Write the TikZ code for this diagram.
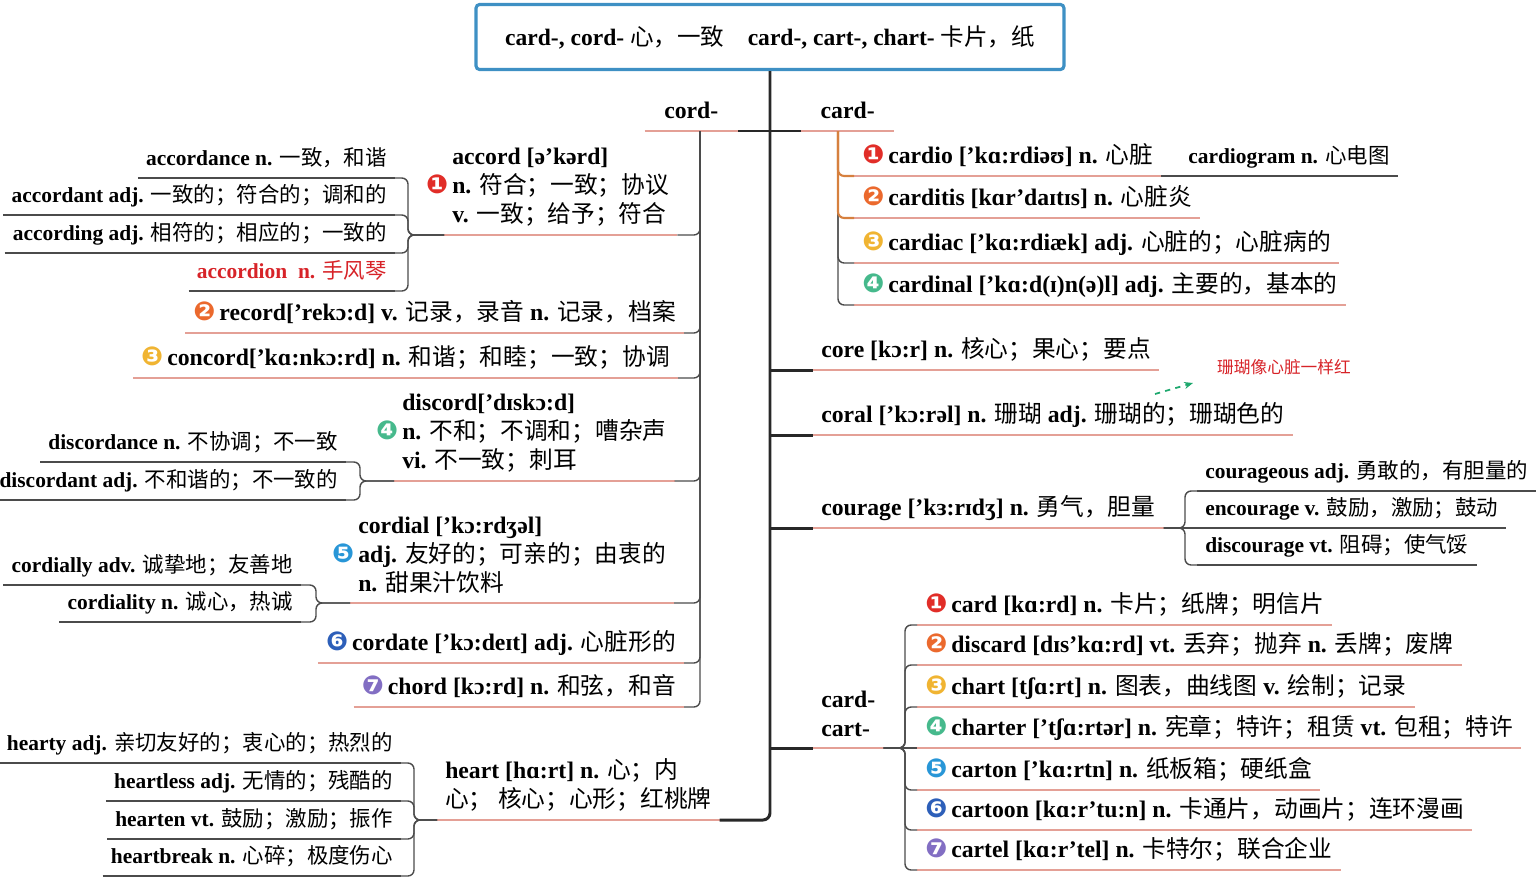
\documentclass[tikz,border=0pt]{standalone}
\usepackage{fontspec}
\setmainfont{Liberation Serif}
\newfontfamily\cjk{Noto Sans CJK SC}
\newfontfamily\dingfont{DejaVu Sans}[Scale=1.1]
\usetikzlibrary{arrows.meta}
\definecolor{CmBlue}{RGB}{62,144,196}
\definecolor{CmTrunk}{RGB}{40,40,40}
\definecolor{CmLink}{RGB}{75,75,75}
\definecolor{CmPink}{RGB}{228,160,150}
\definecolor{CmOrange}{RGB}{214,128,62}
\definecolor{CmRed}{RGB}{215,35,40}
\definecolor{CmGreen}{RGB}{30,168,110}
\definecolor{Nb1}{RGB}{225,45,40}
\definecolor{Nb2}{RGB}{235,105,45}
\definecolor{Nb3}{RGB}{240,180,50}
\definecolor{Nb4}{RGB}{70,185,140}
\definecolor{Nb5}{RGB}{40,150,215}
\definecolor{Nb6}{RGB}{45,95,185}
\definecolor{Nb7}{RGB}{130,110,195}
\newcommand\cmfont{\fontsize{13.5}{16.5}\selectfont\bfseries}
\newcommand\subfont{\fontsize{12.2}{15}\selectfont\bfseries}
\newcommand\zh[1]{{\cjk\mdseries #1}}
\newcommand\nb[2]{{\dingfont\color{#1}#2}}
\tikzset{
  cm/title/.style={
    draw=CmBlue,
    line width=1.8pt,
    rounded corners=2pt,
    fill=white,
    minimum width=11.76cm,
    minimum height=1.3cm,
    font=\fontsize{13.4}{16}\selectfont\bfseries
  },
  cm/text/.style={font=\cmfont, inner xsep=4.5pt, inner ysep=2.8pt},
  cm/word/.style={cm/text, text depth=4pt},
  cm/sub/.style={cm/word, font=\subfont},
  cm/multi/.style={cm/text, align=left, inner ysep=5pt},
  cm/root/.style={cm/word, inner xsep=11pt},
  cm/note/.style={font=\fontsize{9.5}{11}\selectfont\cjk, text=CmRed, inner sep=1pt},
  cm/trunk/.style={draw=CmTrunk, line width=1.7pt, rounded corners=4pt},
  cm/link/.style={draw=CmLink, line width=0.8pt, rounded corners=3.5pt},
  cm/hot/.style={draw=CmOrange, line width=1.2pt, rounded corners=3.5pt},
  cm/uline/.style={draw=CmPink, line width=0.8pt},
  cm/subline/.style={draw=CmLink, line width=0.8pt},
  cm/hint/.style={draw=CmGreen, line width=1pt, dashed, -{Stealth[length=5pt,width=4pt]}}
}
\begin{document}
\begin{tikzpicture}[x=0.02cm,y=-0.02cm]
  \useasboundingbox (0,0) rectangle (1536,880);
  \node[cm/title] (top) at (770,37) {card-, cord- \zh{心，一致}\hspace{1em}card-, cart-, chart- \zh{卡片，纸}};

  % cord- side
  \node[cm/root,anchor=south east] (cordroot) at (738,131) {cord-};
  \node[cm/root,anchor=south west] (cardroot) at (801,131) {card-};
  \coordinate (cordfork) at (700,131);
  \coordinate (cardfork) at (838,131);

  \node[cm/multi,anchor=south west] (accord) at (444,235) {accord [ə'kərd]\\\llap{\nb{Nb1}{❶}\,}n. \zh{符合；一致；协议}\\v. \zh{一致；给予；符合}};
  \coordinate (accordfork) at (408,235);
  \node[cm/sub,anchor=south east] (accordance) at (395,178) {accordance n. \zh{一致，和谐}};
  \node[cm/sub,anchor=south east] (accordant) at (395,215) {accordant adj. \zh{一致的；符合的；调和的}};
  \node[cm/sub,anchor=south east] (according) at (395,253) {according adj. \zh{相符的；相应的；一致的}};
  \node[cm/sub,anchor=south east,text=CmRed] (accordion) at (395,291) {accordion\enspace n. \zh{手风琴}};

  \node[cm/word,anchor=south east] (record) at (684,333) {\nb{Nb2}{❷}\,record['rekɔ:d] v. \zh{记录，录音} n. \zh{记录，档案}};
  \node[cm/word,anchor=south east] (concord) at (678,378) {\nb{Nb3}{❸}\,concord['kɑ:nkɔ:rd] n. \zh{和谐；和睦；一致；协调}};

  \node[cm/multi,anchor=south west] (discord) at (394,481) {discord['dɪskɔ:d]\\\llap{\nb{Nb4}{❹}\,}n. \zh{不和；不调和；嘈杂声}\\vi. \zh{不一致；刺耳}};
  \coordinate (discordfork) at (360,481);
  \node[cm/sub,anchor=south east] (discordance) at (346,462) {discordance n. \zh{不协调；不一致}};
  \node[cm/sub,anchor=south east] (discordant) at (346,500) {discordant adj. \zh{不和谐的；不一致的}};

  \node[cm/multi,anchor=south west] (cordial) at (350,603) {cordial ['kɔ:rdʒəl]\\\llap{\nb{Nb5}{❺}\,}adj. \zh{友好的；可亲的；由衷的}\\n. \zh{甜果汁饮料}};
  \coordinate (cordialfork) at (316,603);
  \node[cm/sub,anchor=south east] (cordially) at (301,585) {cordially adv. \zh{诚挚地；友善地}};
  \node[cm/sub,anchor=south east] (cordiality) at (301,622) {cordiality n. \zh{诚心，热诚}};

  \node[cm/word,anchor=south east] (cordate) at (684,663) {\nb{Nb6}{❻}\,cordate ['kɔ:deɪt] adj. \zh{心脏形的}};
  \node[cm/word,anchor=south east] (chord) at (684,707) {\nb{Nb7}{❼}\,chord [kɔ:rd] n. \zh{和弦，和音}};

  % heart
  \node[cm/multi,anchor=south west] (heart) at (437,820) {heart [hɑ:rt] n. \zh{心；内}\\\zh{心； 核心；心形；红桃牌}};
  \coordinate (heartfork) at (414,820);
  \node[cm/sub,anchor=south east] (hearty) at (401,763) {hearty adj. \zh{亲切友好的；衷心的；热烈的}};
  \node[cm/sub,anchor=south east] (heartless) at (401,801) {heartless adj. \zh{无情的；残酷的}};
  \node[cm/sub,anchor=south east] (hearten) at (401,839) {hearten vt. \zh{鼓励；激励；振作}};
  \node[cm/sub,anchor=south east] (heartbreak) at (401,876) {heartbreak n. \zh{心碎；极度伤心}};

  % card- side
  \node[cm/word,anchor=south west] (cardio) at (854,176) {\nb{Nb1}{❶}\,cardio ['kɑ:rdiəʊ] n. \zh{心脏}};
  \node[cm/sub,anchor=south west] (cardiogram) at (1180,176) {cardiogram n. \zh{心电图}};
  \node[cm/word,anchor=south west] (carditis) at (854,218) {\nb{Nb2}{❷}\,carditis [kɑr'daɪtɪs] n. \zh{心脏炎}};
  \node[cm/word,anchor=south west] (cardiac) at (854,263) {\nb{Nb3}{❸}\,cardiac ['kɑ:rdiæk] adj. \zh{心脏的；心脏病的}};
  \node[cm/word,anchor=south west] (cardinal) at (854,305) {\nb{Nb4}{❹}\,cardinal ['kɑ:d(ɪ)n(ə)l] adj. \zh{主要的，基本的}};

  \node[cm/word,anchor=south west] (core) at (813,370) {core [kɔ:r] n. \zh{核心；果心；要点}};
  \node[cm/word,anchor=south west] (coral) at (813,435) {coral ['kɔ:rəl] n. \zh{珊瑚} adj. \zh{珊瑚的；珊瑚色的}};
  \node[cm/note] (coralnote) at (1284,367) {珊瑚像心脏一样红};
  \coordinate (hintA) at (1155,394);
  \coordinate (hintB) at (1193,383);

  \node[cm/word,anchor=south west] (courage) at (813,528) {courage ['kɜ:rɪdʒ] n. \zh{勇气，胆量}};
  \coordinate (courfork) at (1185,528);
  \node[cm/sub,anchor=south west] (courageous) at (1197,491) {courageous adj. \zh{勇敢的，有胆量的}};
  \node[cm/sub,anchor=south west] (encourage) at (1197,528) {encourage v. \zh{鼓励，激励；鼓动}};
  \node[cm/sub,anchor=south west] (discourage) at (1197,565) {discourage vt. \zh{阻碍；使气馁}};

  \node[cm/multi,anchor=south west,inner ysep=6.5pt] (cardcart) at (813,748) {card-\\cart-};
  \coordinate (cartfork) at (905,748);
  \node[cm/word,anchor=south west] (card) at (917,625) {\nb{Nb1}{❶}\,card [kɑ:rd] n. \zh{卡片；纸牌；明信片}};
  \node[cm/word,anchor=south west] (discard) at (917,665) {\nb{Nb2}{❷}\,discard [dɪs'kɑ:rd] vt. \zh{丢弃；抛弃} n. \zh{丢牌；废牌}};
  \node[cm/word,anchor=south west] (chart) at (917,707) {\nb{Nb3}{❸}\,chart [tʃɑ:rt] n. \zh{图表，曲线图} v. \zh{绘制；记录}};
  \node[cm/word,anchor=south west] (charter) at (917,748) {\nb{Nb4}{❹}\,charter ['tʃɑ:rtər] n. \zh{宪章；特许；租赁} vt. \zh{包租；特许}};
  \node[cm/word,anchor=south west] (carton) at (917,790) {\nb{Nb5}{❺}\,carton ['kɑ:rtn] n. \zh{纸板箱；硬纸盒}};
  \node[cm/word,anchor=south west] (cartoon) at (917,830) {\nb{Nb6}{❻}\,cartoon [kɑ:r'tu:n] n. \zh{卡通片，动画片；连环漫画}};
  \node[cm/word,anchor=south west] (cartel) at (917,870) {\nb{Nb7}{❼}\,cartel [kɑ:r'tel] n. \zh{卡特尔；联合企业}};

  % underlines
  \foreach \n in {cordroot,cardroot,accord,record,concord,discord,cordial,cordate,chord,heart,
                  cardio,carditis,cardiac,cardinal,core,coral,courage,cardcart,
                  card,discard,chart,charter,carton,cartoon,cartel}
    \draw[cm/uline] (\n.south west) -- (\n.south east);
  \foreach \n in {accordance,accordant,according,accordion,discordance,discordant,
                  cordially,cordiality,hearty,heartless,hearten,heartbreak,
                  cardiogram,courageous,encourage,discourage}
    \draw[cm/subline] (\n.south west) -- (\n.south east);

  % links
  \foreach \n in {accord,record,concord,discord,cordial,cordate,chord}
    \draw[cm/link] (\n.south east) -| (cordfork);
  \foreach \n in {accordance,accordant,according,accordion}
    \draw[cm/link] (\n.south east) -| (accordfork) -- (accord.south west);
  \foreach \n in {discordance,discordant}
    \draw[cm/link] (\n.south east) -| (discordfork) -- (discord.south west);
  \foreach \n in {cordially,cordiality}
    \draw[cm/link] (\n.south east) -| (cordialfork) -- (cordial.south west);
  \foreach \n in {hearty,heartless,hearten,heartbreak}
    \draw[cm/link] (\n.south east) -| (heartfork) -- (heart.south west);

  \foreach \n in {cardiac,cardinal}
    \draw[cm/link] (cardfork) |- (\n.south west);
  \foreach \n in {cardio,carditis}
    \draw[cm/hot] (cardfork) |- (\n.south west);
  \draw[cm/link] (cardio.south east) -- (cardiogram.south west);

  \draw[cm/link] (courage.south east) -- (encourage.south west);
  \foreach \n in {courageous,discourage}
    \draw[cm/link] (courage.south east) -- (courfork) |- (\n.south west);
  \draw[cm/link] (cardcart.south east) -- (charter.south west);
  \foreach \n in {card,discard,chart,carton,cartoon,cartel}
    \draw[cm/link] (cardcart.south east) -- (cartfork) |- (\n.south west);
  \draw[cm/hint] (hintA) -- (hintB);

  % trunk
  \draw[cm/trunk] (top.south) |- (heart.south east);
  \draw[cm/trunk] (cordroot.south east) -- (cardroot.south west);
  \foreach \n in {core,coral,courage,cardcart}
    \draw[cm/trunk] (top.south |- \n.south) -- (\n.south west);
\end{tikzpicture}
\end{document}
